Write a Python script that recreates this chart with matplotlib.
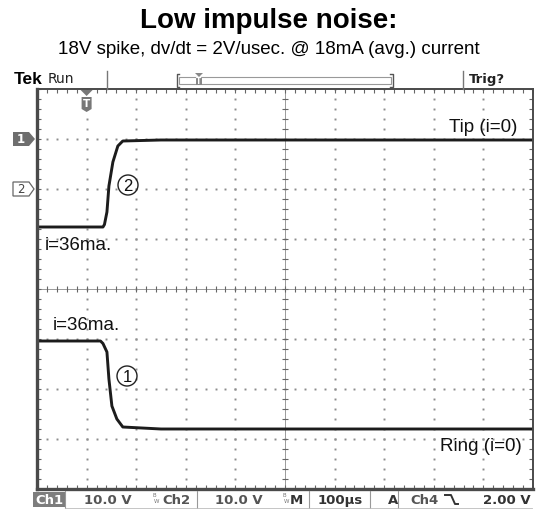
"""Recreate the 'Low impulse noise' oscilloscope capture (Tip / Ring traces)."""

import matplotlib

matplotlib.use("Agg")
import matplotlib.pyplot as plt
from matplotlib.patches import Circle, Polygon, Rectangle
import numpy as np

W, H = 537, 510

# scope settings
time_per_div_us = 100
volts_per_div = 10.0
ch1_ground_div = 3.0
ch2_ground_div = 2.0
trigger_time_us = 100

# Tip (ch2): volts vs time in microseconds
tip_time_us = [0, 133, 136, 141, 145, 153, 163, 173, 250, 1000]
tip_volts = [-7.6, -7.6, -7.1, -4.6, 0.6, 5.4, 8.6, 9.6, 9.8, 9.8]

# Ring (ch1): volts vs time in microseconds
ring_time_us = [0, 128, 133, 141, 145, 151, 161, 173, 250, 1000]
ring_volts = [-40.4, -40.4, -40.9, -42.6, -48.0, -53.4, -56.0, -57.6, -58.0, -58.0]

status_items = ["Ch1", "10.0 V", "Ch2", "10.0 V", "M", "100µs", "A", "Ch4", "2.00 V"]

LABEL_FONT = "Liberation Sans"
SCOPE_FONT = "DejaVu Sans"
GRID = "#8c8c8c"
TRACE = "#1c1c1c"

fig = plt.figure(figsize=(W / 100, H / 100), dpi=100)

# graticule
ax = fig.add_axes([37 / W, 20 / H, 496 / W, 400 / H])
ax.set_xlim(0, 10 * time_per_div_us)
ax.set_ylim(-4, 4)
ax.set_xticks([])
ax.set_yticks([])
for side, spine in ax.spines.items():
    spine.set_color("#4a4a4a")
    spine.set_linewidth(2.4 if side in ("left", "bottom") else 1.4)

# overlay in pixel coordinates for the scope decorations
ov = fig.add_axes([0, 0, 1, 1])
ov.set_xlim(0, W)
ov.set_ylim(H, 0)
ov.axis("off")
ov.set_zorder(5)

minor_x = np.arange(0, 1000.1, time_per_div_us / 5)
minor_y = np.arange(-4, 4.01, 0.2)
dot = dict(ls="none", marker="s", ms=1.4, mec="none", mfc=GRID)
for k in range(1, 10):
    if k == 5:
        continue
    ax.plot(np.full_like(minor_y, k * time_per_div_us), minor_y, **dot)
for j in (-3, -2, -1, 1, 2, 3):
    ax.plot(minor_x, np.full_like(minor_x, j), **dot)

# centre lines with crosses
ax.axhline(0, color="#9a9a9a", lw=0.7)
ax.axvline(500, color="#9a9a9a", lw=0.7)
ax.plot(minor_x, np.zeros_like(minor_x), ls="none", marker="|", ms=4.5, mew=0.8, color="#666")
ax.plot(np.full_like(minor_y, 500), minor_y, ls="none", marker="_", ms=4.5, mew=0.8, color="#666")

# border ticks
edge = dict(ls="none", ms=3.0, mew=0.8, color="#666")
ax.plot(minor_x, np.full_like(minor_x, 4 - 0.035), marker="|", **edge)
ax.plot(minor_x, np.full_like(minor_x, -4 + 0.035), marker="|", **edge)
ax.plot(np.full_like(minor_y, 3.5), minor_y, marker="_", **edge)
ax.plot(np.full_like(minor_y, 996.5), minor_y, marker="_", **edge)

# traces
ax.plot(tip_time_us, np.array(tip_volts) / volts_per_div + ch2_ground_div,
        color=TRACE, lw=2.1, solid_joinstyle="round", solid_capstyle="butt")
ax.plot(ring_time_us, np.array(ring_volts) / volts_per_div + ch1_ground_div,
        color=TRACE, lw=2.1, solid_joinstyle="round", solid_capstyle="butt")

# trace annotations
ax.text(0.968, 3.26, "Tip (i=0)", transform=ax.get_yaxis_transform(), ha="right",
        va="center", fontsize=13.5, family=LABEL_FONT, color="#111")
ax.text(0.978, -3.14, "Ring (i=0)", transform=ax.get_yaxis_transform(), ha="right",
        va="center", fontsize=13.5, family=LABEL_FONT, color="#111")
ax.text(15, 0.9, "i=36ma.", ha="left", va="center", fontsize=13.5, family=LABEL_FONT, color="#111")
ax.text(31, -0.72, "i=36ma.", ha="left", va="center", fontsize=13.5, family=LABEL_FONT, color="#111")
for num, (cx, cy) in (("2", (128, 186)), ("1", (127, 377))):
    ov.add_patch(Circle((cx, cy), 10, fill=False, ec="#222", lw=1.0))
    ov.text(cx, cy + 0.5, num, ha="center", va="center", fontsize=12, family=LABEL_FONT, color="#111")

# title
fig.text(0.5, 1 - 21 / H, "Low impulse noise:", ha="center", va="center",
         fontsize=20, fontweight="bold", family=LABEL_FONT)
fig.text(0.5, 1 - 49 / H, "18V spike, dv/dt = 2V/usec. @ 18mA (avg.) current", ha="center",
         va="center", fontsize=13.5, family=LABEL_FONT)

# header bar
ov.text(14, 80, "Tek", ha="left", va="center", fontsize=12.5, fontweight="bold", family=LABEL_FONT)
ov.text(48, 79, "Run", ha="left", va="center", fontsize=10, family=SCOPE_FONT, color="#222")
ov.plot([107, 107], [72, 90], color="#777", lw=1.0)
ov.plot([463, 463], [72, 90], color="#777", lw=1.0)
ov.text(469, 79, "Trig?", ha="left", va="center", fontsize=9.5, fontweight="bold",
        family=SCOPE_FONT, color="#222")
ov.add_patch(Rectangle((179, 78), 212, 7, fill=False, ec="#999", lw=0.8))
ov.plot([179, 177, 177, 179], [75, 75, 88, 88], color="#555", lw=1.0)
ov.plot([390, 393, 393, 390], [75, 75, 88, 88], color="#555", lw=1.0)
ov.add_patch(Polygon([(195, 74), (203, 74), (199, 78)], closed=True, fc="#888", ec="none"))
ov.add_patch(Rectangle((196, 78), 6, 8, fc="#888", ec="none"))
ov.text(199, 82, "T", ha="center", va="center", fontsize=5.5, fontweight="bold", color="white")

# trigger position marker
trig_x = 37 + 496 * trigger_time_us / (10 * time_per_div_us)
ov.add_patch(Polygon([(trig_x - 6, 91), (trig_x + 6, 91), (trig_x, 97)], closed=True, fc="#777", ec="none"))
ov.add_patch(Polygon([(trig_x - 5, 98), (trig_x + 5, 98), (trig_x + 5, 110), (trig_x, 113),
                      (trig_x - 5, 110)], closed=True, fc="#777", ec="none"))
ov.text(trig_x, 104, "T", ha="center", va="center", fontsize=7.5, fontweight="bold", color="white")

# channel ground markers
y1 = 290 - ch1_ground_div * 50
y2 = 290 - ch2_ground_div * 50
ov.add_patch(Polygon([(13, y1 - 7), (29, y1 - 7), (35, y1), (29, y1 + 7), (13, y1 + 7)],
                     closed=True, fc="#6e6e6e", ec="none"))
ov.text(21, y1, "1", ha="center", va="center", fontsize=8.5, fontweight="bold", color="white")
ov.add_patch(Polygon([(13, y2 - 7), (29, y2 - 7), (34, y2), (29, y2 + 7), (13, y2 + 7)],
                     closed=True, fc="white", ec="#666", lw=0.9))
ov.text(21, y2, "2", ha="center", va="center", fontsize=8.5, color="#444")

# status bar
sb = dict(va="center", fontsize=9.5, fontweight="bold", family=SCOPE_FONT, color="#555")
ov.add_patch(Rectangle((33, 493), 32, 15, fc="#7d7d7d", ec="none"))
ov.text(49, 500.5, status_items[0], ha="center", **{**sb, "color": "white"})
ov.text(84, 500.5, status_items[1], ha="left", **sb)
ov.text(154, 496, "B", ha="center", va="center", fontsize=4, color="#777")
ov.text(157, 502, "W", ha="center", va="center", fontsize=4, color="#777")
ov.text(162, 500.5, status_items[2], ha="left", **sb)
ov.text(215, 500.5, status_items[3], ha="left", **sb)
ov.text(284, 496, "B", ha="center", va="center", fontsize=4, color="#777")
ov.text(287, 502, "W", ha="center", va="center", fontsize=4, color="#777")
ov.text(290, 500.5, status_items[4], ha="left", **{**sb, "color": "#333"})
ov.text(340, 500.5, status_items[5], ha="center", **{**sb, "color": "#333"})
ov.text(388, 500.5, status_items[6], ha="left", **{**sb, "color": "#333"})
ov.text(410, 500.5, status_items[7], ha="left", **sb)
ov.plot([445, 451, 455, 458], [496, 496, 505, 505], color="#333", lw=1.4)
ov.text(531, 500.5, status_items[8], ha="right", **{**sb, "color": "#333"})
for x in (65, 197, 309, 370, 398):
    ov.plot([x, x], [492, 509], color="#999", lw=0.8)
ov.plot([65, 532], [509, 509], color="#bbb", lw=0.6)

fig.savefig("out.png", dpi=100)
